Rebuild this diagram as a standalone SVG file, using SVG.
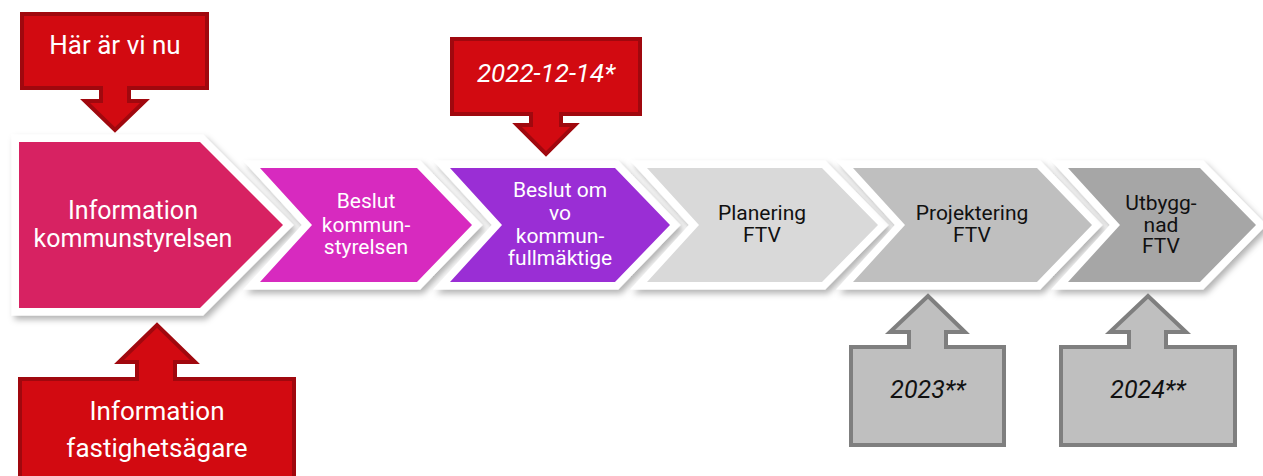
<svg xmlns="http://www.w3.org/2000/svg" width="1263" height="476" viewBox="0 0 1263 476">
  <defs>
    <filter id="shadow" x="-10%" y="-15%" width="125%" height="140%">
      <feDropShadow dx="3" dy="4" stdDeviation="3" flood-color="#000" flood-opacity="0.3"/>
    </filter>
    <style>
      .chev { stroke: #ffffff; stroke-width: 15; stroke-linejoin: miter; stroke-miterlimit: 4; paint-order: stroke; filter: url(#shadow); }
      .txt { font-family: Roboto, "Liberation Sans", sans-serif; text-anchor: middle; }
      .w { fill: #ffffff; }
      .k { fill: #111111; }
      .red { fill: #D20A11; stroke: #A0080E; stroke-width: 4; stroke-linejoin: miter; }
      .grey { fill: #BFBFBF; stroke: #7F7F7F; stroke-width: 4; stroke-linejoin: miter; }
      .it { font-style: italic; }
    </style>
  </defs>
  <rect width="1263" height="476" fill="#ffffff"/>

  <g id="connectors"></g>

  <g id="step1">
    <polygon class="chev" fill="#D72362" points="19,142 200,142 283,225 200,308 19,308"/>
    <text class="txt w" font-size="25" x="133" y="219">Information</text>
    <text class="txt w" font-size="25" x="133" y="247">kommunstyrelsen</text>
  </g>
  <g id="step2">
    <polygon class="chev" fill="#D72ABF" points="260,168 417,168 472,225 417,282 260,282 312,225"/>
    <text class="txt w" font-size="21" x="366" y="208">Beslut</text>
    <text class="txt w" font-size="21" x="366" y="232">kommun-</text>
    <text class="txt w" font-size="21" x="366" y="254">styrelsen</text>
  </g>
  <g id="step3">
    <polygon class="chev" fill="#9A2FD5" points="450,168 615,168 670,225 615,282 450,282 502,225"/>
    <text class="txt w" font-size="21" x="560" y="197">Beslut om</text>
    <text class="txt w" font-size="21" x="560" y="220">vo</text>
    <text class="txt w" font-size="21" x="560" y="243">kommun-</text>
    <text class="txt w" font-size="21" x="560" y="265">fullmäktige</text>
  </g>
  <g id="step4">
    <polygon class="chev" fill="#D9D9D9" points="647,168 822,168 878,225 822,282 647,282 699,225"/>
    <text class="txt k" font-size="21" x="762" y="220">Planering</text>
    <text class="txt k" font-size="21" x="762" y="242">FTV</text>
  </g>
  <g id="step5">
    <polygon class="chev" fill="#BFBFBF" points="853,168 1037,168 1092,225 1037,282 853,282 905,225"/>
    <text class="txt k" font-size="21" x="972" y="220">Projektering</text>
    <text class="txt k" font-size="21" x="972" y="242">FTV</text>
  </g>
  <g id="step6">
    <polygon class="chev" fill="#A6A6A6" points="1068,168 1200,168 1256,225 1200,282 1068,282 1120,225"/>
    <text class="txt k" font-size="21" x="1161" y="210">Utbygg-</text>
    <text class="txt k" font-size="21" x="1161" y="232">nad</text>
    <text class="txt k" font-size="21" x="1161" y="253">FTV</text>
  </g>

  <g id="callout-nu">
    <path class="red" d="M22,14 H207 V88 H129 V101 H145 L115,130 L85,101 H101 V88 H22 Z"/>
    <text class="txt w" font-size="26" x="115" y="54">Här är vi nu</text>
  </g>
  <g id="callout-date">
    <path class="red" d="M452,39 H640 V114 H561 V125 H575 L546,154 L517,125 H531 V114 H452 Z"/>
    <text class="txt w it" font-size="26" x="546" y="82">2022-12-14*</text>
  </g>
  <g id="callout-fastighet">
    <path class="red" d="M20,379 H137 V362 H119 L157,325 L195,362 H175 V379 H294 V490 H20 Z"/>
    <text class="txt w" font-size="26" x="157" y="420">Information</text>
    <text class="txt w" font-size="26" x="157" y="457">fastighetsägare</text>
  </g>
  <g id="callout-2023">
    <path class="grey" d="M851,347 H909 V332 H890 L928,296 L965,332 H946 V347 H1004 V445 H851 Z"/>
    <text class="txt k it" font-size="25" x="928" y="398">2023**</text>
  </g>
  <g id="callout-2024">
    <path class="grey" d="M1061,347 H1129 V332 H1110 L1148,296 L1186,332 H1166 V347 H1235 V445 H1061 Z"/>
    <text class="txt k it" font-size="25" x="1148" y="398">2024**</text>
  </g>
</svg>
